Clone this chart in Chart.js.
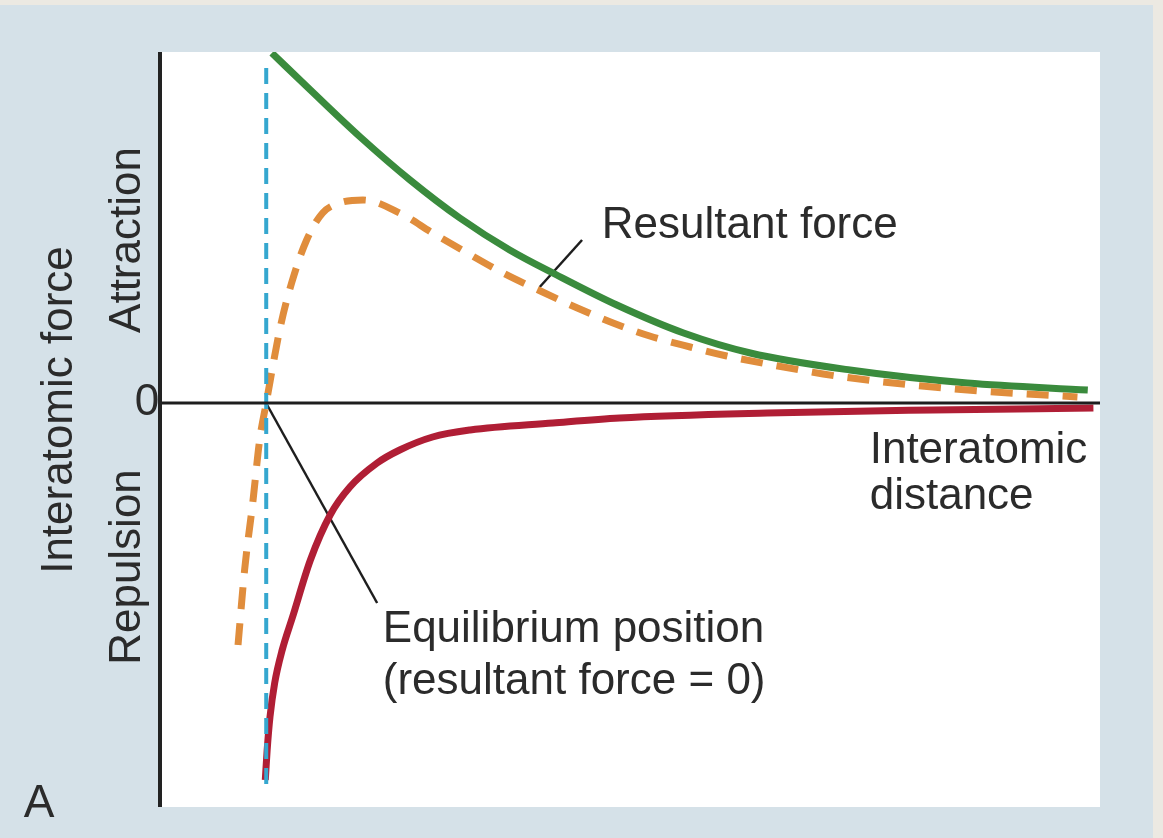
<!DOCTYPE html>
<html>
<head>
<meta charset="utf-8">
<title>Interatomic force</title>
<script src="https://cdn.jsdelivr.net/npm/chart.js@4"></script>
<style>
  html, body { margin: 0; padding: 0; background: #ece9e2; }
  canvas { display: block; }
</style>
</head>
<body>
<canvas id="forceChart" width="1163" height="838"></canvas>
<script>
// distance in arbitrary units (0..10), force in arbitrary units (+ attraction, - repulsion)
const resultantX = [1.19, 1.60, 2.13, 2.66, 3.19, 3.72, 4.22, 4.86, 5.57, 6.28, 7.34, 8.59, 9.87];
const resultantY = [3.50, 3.13, 2.66, 2.23, 1.85, 1.53, 1.28, 0.98, 0.70, 0.50, 0.33, 0.20, 0.13];

const attractX = [0.83, 0.90, 0.99, 1.06, 1.13, 1.28, 1.40, 1.56, 1.73, 1.91, 2.16, 2.55, 2.90, 3.27, 3.65, 4.07, 4.44, 4.82, 5.21, 5.64, 6.03, 6.46, 7.27, 8.59, 9.76];
const attractY = [-2.42, -1.67, -0.97, -0.37, 0, 0.76, 1.20, 1.63, 1.90, 2.00, 2.03, 1.90, 1.70, 1.50, 1.30, 1.11, 0.95, 0.80, 0.67, 0.56, 0.47, 0.39, 0.26, 0.13, 0.06];

const repulseX = [1.12, 1.14, 1.17, 1.22, 1.30, 1.41, 1.60, 1.81, 2.02, 2.31, 2.55, 2.90, 3.30, 4.18, 4.89, 6.46, 8.22, 9.93];
const repulseY = [-3.77, -3.47, -3.14, -2.80, -2.47, -2.14, -1.57, -1.12, -0.84, -0.60, -0.47, -0.34, -0.27, -0.20, -0.15, -0.10, -0.07, -0.05];

const equilibriumX = [1.13, 1.13];
const equilibriumY = [3.35, -3.82];

const zeroX = [0, 10];
const zeroY = [0, 0];

// leader lines for the labels
const resultantPointerX = [4.49, 4.04];
const resultantPointerY = [1.63, 1.16];
const equilibriumPointerX = [1.14, 2.31];
const equilibriumPointerY = [-0.02, -2.00];

const FONT = '"Liberation Sans", Arial, sans-serif';
const TEXT = '#2b2b2b';

function toPoints(xs, ys) {
  return xs.map((x, i) => ({ x: x, y: ys[i] }));
}

// panel background, plot area, left axis and all labels
const figurePlugin = {
  id: 'figure',
  beforeDraw(chart) {
    const ctx = chart.ctx;
    const a = chart.chartArea;
    ctx.save();
    ctx.fillStyle = '#ece9e2';
    ctx.fillRect(0, 0, chart.width, chart.height);
    ctx.fillStyle = '#d5e1e8';
    ctx.fillRect(0, 5, 1153, chart.height - 5);
    ctx.fillStyle = '#ffffff';
    ctx.fillRect(a.left, a.top, a.right - a.left, a.bottom - a.top);
    ctx.restore();
  },
  afterDraw(chart) {
    const ctx = chart.ctx;
    const a = chart.chartArea;
    const xs = chart.scales.x;
    const ys = chart.scales.y;
    ctx.save();

    // vertical axis
    ctx.strokeStyle = '#222222';
    ctx.lineWidth = 4;
    ctx.beginPath();
    ctx.moveTo(a.left, a.top);
    ctx.lineTo(a.left, a.bottom);
    ctx.stroke();

    ctx.fillStyle = TEXT;
    ctx.font = '44px ' + FONT;
    ctx.textBaseline = 'middle';

    // in-plot labels, placed by data position
    ctx.textAlign = 'left';
    ctx.fillText('Resultant force', xs.getPixelForValue(4.70), ys.getPixelForValue(1.77));
    ctx.fillText('Interatomic', xs.getPixelForValue(7.55), ys.getPixelForValue(-0.48));
    ctx.fillText('distance', xs.getPixelForValue(7.55), ys.getPixelForValue(-0.94));
    ctx.fillText('Equilibrium position', xs.getPixelForValue(2.37), ys.getPixelForValue(-2.27));
    ctx.fillText('(resultant force = 0)', xs.getPixelForValue(2.37), ys.getPixelForValue(-2.79));

    // axis captions
    ctx.textAlign = 'center';
    ctx.fillText('0', 147, ys.getPixelForValue(0));

    const rotated = [
      ['Interatomic force', 60, 410],
      ['Attraction', 128, 240],
      ['Repulsion', 128, 567]
    ];
    rotated.forEach(([label, x, y]) => {
      ctx.save();
      ctx.translate(x, y);
      ctx.rotate(-Math.PI / 2);
      ctx.fillText(label, 0, 0);
      ctx.restore();
    });

    ctx.font = '46px ' + FONT;
    ctx.fillText('A', 39, 804);
    ctx.restore();
  }
};

const straight = { tension: 0, cubicInterpolationMode: 'default', pointRadius: 0, fill: false };
const smooth = { cubicInterpolationMode: 'monotone', pointRadius: 0, fill: false, borderCapStyle: 'butt' };

new Chart(document.getElementById('forceChart'), {
  type: 'line',
  data: {
    datasets: [
      Object.assign({ label: 'Zero', data: toPoints(zeroX, zeroY), borderColor: '#1e1e1e', borderWidth: 3 }, straight),
      Object.assign({ label: 'Equilibrium', data: toPoints(equilibriumX, equilibriumY), borderColor: '#35a7cf', borderWidth: 4, borderDash: [16, 9] }, straight),
      Object.assign({ label: 'Repulsion', data: toPoints(repulseX, repulseY), borderColor: '#b01e35', borderWidth: 7 }, smooth),
      Object.assign({ label: 'Attraction', data: toPoints(attractX, attractY), borderColor: '#e08d3c', borderWidth: 7, borderDash: [22, 14] }, smooth),
      Object.assign({ label: 'Resultant', data: toPoints(resultantX, resultantY), borderColor: '#3a8b3d', borderWidth: 7 }, smooth),
      Object.assign({ label: 'Resultant pointer', data: toPoints(resultantPointerX, resultantPointerY), borderColor: '#1e1e1e', borderWidth: 2.5 }, straight),
      Object.assign({ label: 'Equilibrium pointer', data: toPoints(equilibriumPointerX, equilibriumPointerY), borderColor: '#1e1e1e', borderWidth: 2.5 }, straight)
    ]
  },
  options: {
    responsive: false,
    animation: false,
    layout: { padding: { left: 160, top: 52, right: 63, bottom: 31 } },
    scales: {
      x: { type: 'linear', min: 0, max: 10, display: false },
      y: { type: 'linear', min: -4.04, max: 3.51, display: false }
    },
    plugins: {
      legend: { display: false },
      tooltip: { enabled: false }
    }
  },
  plugins: [figurePlugin]
});
</script>
</body>
</html>
